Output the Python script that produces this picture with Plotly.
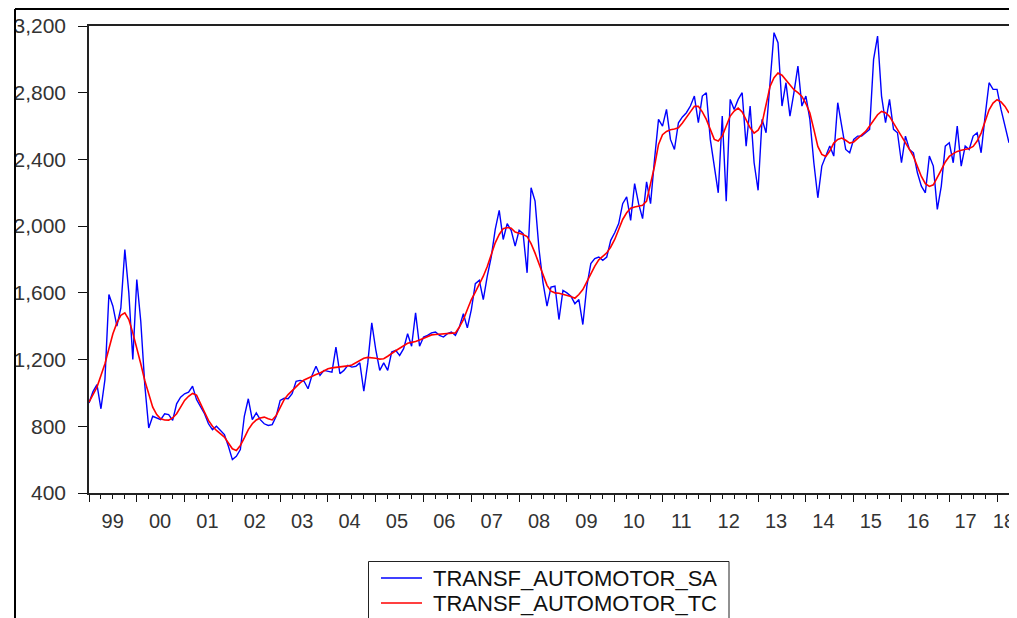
import plotly.graph_objects as go

# ---------------- data (monthly, Jan 1999 - Apr 2018) ----------------
start_year = 1999
series_names = ["TRANSF_AUTOMOTOR_SA", "TRANSF_AUTOMOTOR_TC"]
series_colors = ["#0000FF", "#FF0000"]
year_labels = ["99", "00", "01", "02", "03", "04", "05", "06", "07", "08",
               "09", "10", "11", "12", "13", "14", "15", "16", "17", "18"]

sa_values = [
    940, 1008, 1050, 905, 1080, 1590, 1520, 1400, 1510, 1860, 1600, 1200,
    1680, 1430, 1050, 790, 860, 850, 840, 875, 870, 835, 935, 975,
    995, 1005, 1040, 960, 915, 875, 815, 780, 800, 775, 750, 680,
    600, 620, 660, 860, 965, 840, 880, 840, 815, 805, 810, 860,
    955, 968, 965, 995, 1070, 1075, 1070, 1025, 1105, 1160, 1105, 1135,
    1130, 1125, 1275, 1115, 1135, 1165, 1155, 1160, 1180, 1010, 1180, 1420,
    1260, 1135, 1180, 1135, 1245, 1255, 1225, 1265, 1355, 1280, 1480, 1280,
    1335, 1345, 1360, 1365, 1345, 1335, 1355, 1365, 1345, 1395, 1475, 1390,
    1500, 1655, 1675, 1560, 1700, 1815, 1980, 2095, 1920, 2015, 1975, 1880,
    1975, 1955, 1720, 2230, 2150, 1860, 1660, 1520, 1635, 1640, 1440, 1615,
    1600, 1580, 1535, 1560, 1410, 1640, 1775, 1805, 1815, 1795, 1815, 1915,
    1960, 2015, 2135, 2175, 2035, 2255, 2135, 2045, 2265, 2135, 2400, 2640,
    2600, 2700, 2520, 2460, 2620, 2655, 2680, 2720, 2780, 2620, 2780, 2800,
    2520, 2360, 2200, 2660, 2150, 2760, 2700, 2760, 2800, 2480, 2720, 2380,
    2215, 2640, 2560, 2860, 3160, 3100, 2720, 2860, 2660, 2800, 2960, 2720,
    2780, 2640, 2380, 2170, 2360, 2420, 2480, 2420, 2740, 2600, 2460, 2440,
    2520, 2540, 2540, 2560, 2580, 3000, 3140, 2780, 2620, 2760, 2580, 2560,
    2380, 2540, 2460, 2440, 2320, 2240, 2200, 2420, 2360, 2100, 2240, 2480,
    2500, 2380, 2600, 2360, 2480, 2460, 2540, 2560, 2440, 2660, 2860, 2820,
    2820, 2700, 2600, 2500,
]

tc_values = [
    945, 990, 1035, 1105, 1175, 1265, 1355, 1420, 1465, 1480, 1440, 1360,
    1275, 1175, 1075, 990, 915, 870, 845, 838, 837, 850, 875, 915,
    955, 980, 997, 987, 940, 885, 835, 800, 775, 755, 735, 700,
    665, 655, 685, 730, 780, 815, 838, 850, 855, 845, 838, 865,
    915, 960, 990, 1015, 1040, 1060, 1078, 1090, 1100, 1110, 1120, 1135,
    1145, 1150, 1152, 1155, 1158, 1162, 1168, 1182, 1198, 1208, 1213, 1212,
    1208, 1203, 1205, 1220, 1238, 1253, 1268, 1285, 1298, 1303, 1308, 1318,
    1328, 1340, 1348, 1350, 1352, 1352, 1352, 1354, 1360, 1395, 1440, 1500,
    1560, 1605, 1648, 1700, 1758, 1830, 1900, 1950, 1985, 1992, 1988, 1965,
    1958, 1950, 1938, 1895, 1838, 1770, 1700, 1645, 1610, 1600, 1598, 1592,
    1588, 1578, 1568, 1590, 1620, 1670, 1720, 1760, 1798, 1820, 1840, 1875,
    1920, 1980, 2040, 2080, 2108, 2115, 2118, 2125, 2150, 2250, 2360, 2490,
    2548, 2568, 2578, 2582, 2590, 2618, 2648, 2685, 2718, 2718, 2685, 2640,
    2580, 2520, 2510, 2540, 2600, 2660, 2690, 2708, 2685, 2640, 2590, 2558,
    2575, 2618, 2720, 2838, 2890, 2918, 2905, 2878, 2850, 2818, 2800, 2778,
    2735, 2678, 2580, 2478, 2430, 2418, 2450, 2498, 2520, 2528, 2515, 2498,
    2505, 2528, 2545, 2568, 2600, 2638, 2668, 2688, 2680, 2658, 2620, 2578,
    2540, 2498, 2460, 2418, 2360, 2298, 2255, 2238, 2248, 2290, 2338, 2385,
    2418, 2435, 2448, 2455, 2458, 2465, 2478, 2510, 2558, 2625, 2698, 2738,
    2758, 2745, 2718, 2678,
]

# time axis in decimal years (one observation per month)
t = [start_year + i / 12 for i in range(len(sa_values))]
x_end = t[-1]

# ---------------- geometry ----------------
OFF = 8                          # page body margin of the html page
W, H = 1017 - OFF, 618 - OFF
ML, MR, MT, MB = 89 - OFF, 0, 26 - OFF, 125
plot_w = W - ML - MR            # 928
plot_h = H - MT - MB
axis_px = 920                   # width of the framed plot area
px_per_year = axis_px / (x_end - start_year)
x2_end = start_year + plot_w / px_per_year

label_pos = [start_year + i + 0.5 for i in range(len(year_labels) - 1)]
label_pos.append(2018.31)

FONT = "Liberation Sans, Arial, sans-serif"


def px_x(page_px):
    return (page_px - OFF - ML) / plot_w


def px_y(page_py):
    return (H - MB - (page_py - OFF)) / plot_h


fig = go.Figure()
fig.add_trace(go.Scatter(x=t, y=sa_values, mode="lines", name=series_names[0],
                         line=dict(color=series_colors[0], width=1.4),
                         showlegend=False))
fig.add_trace(go.Scatter(x=t, y=tc_values, mode="lines", name=series_names[1],
                         line=dict(color=series_colors[1], width=1.6),
                         showlegend=False))
# carrier trace so that the label axis is drawn
fig.add_trace(go.Scatter(x=[start_year, x2_end], y=[400, 400], xaxis="x2",
                         mode="lines", line=dict(color="rgba(0,0,0,0)", width=0),
                         showlegend=False, hoverinfo="skip"))

fig.update_layout(
    width=W, height=H,
    margin=dict(l=ML, r=MR, t=MT, b=MB, autoexpand=False),
    paper_bgcolor="white", plot_bgcolor="white",
    showlegend=False,
    xaxis=dict(domain=[0, axis_px / plot_w], range=[start_year, x_end],
               tickmode="linear", tick0=start_year, dtick=1,
               ticks="outside", ticklen=7, tickwidth=1, tickcolor="#111111",
               showticklabels=False,
               minor=dict(dtick=0.25, tick0=start_year, ticks="outside",
                          ticklen=4, tickwidth=1, tickcolor="#111111"),
               showline=True, linecolor="#222222", linewidth=1.5, mirror=True,
               showgrid=False, zeroline=False),
    xaxis2=dict(domain=[0, 1], range=[start_year, x2_end], overlaying="x",
                anchor="y", side="bottom", tickmode="array", tickvals=label_pos,
                ticktext=year_labels, ticks="outside", ticklen=10,
                tickcolor="rgba(0,0,0,0)", showline=False, showgrid=False,
                zeroline=False, showticklabels=True,
                tickfont=dict(family=FONT, size=20, color="#333333")),
    yaxis=dict(range=[400, 3200], tickmode="linear", tick0=400, dtick=400,
               tickformat=",d", ticks="outside", ticklen=9, tickwidth=1,
               tickcolor="#111111", ticklabelstandoff=8,
               showline=True, linecolor="#222222", linewidth=1.5, mirror=True,
               showgrid=False, zeroline=False,
               tickfont=dict(family=FONT, size=21, color="#333333")),
)

# outer window frame (top and left edges)
fig.add_shape(type="line", xref="paper", yref="paper",
              x0=px_x(15), y0=px_y(9), x1=px_x(1025), y1=px_y(9),
              line=dict(color="#000000", width=2))
fig.add_shape(type="line", xref="paper", yref="paper",
              x0=px_x(15), y0=px_y(9), x1=px_x(15), y1=px_y(625),
              line=dict(color="#000000", width=2))

# legend box (bottom edge falls below the visible window, as in the source)
fig.add_shape(type="rect", xref="paper", yref="paper",
              x0=px_x(368.5), y0=px_y(561.5), x1=px_x(729), y1=px_y(640),
              line=dict(color="#222222", width=1), fillcolor="white")
legend_rows = [578, 603]
for name, color, row in zip(series_names, series_colors, legend_rows):
    fig.add_shape(type="line", xref="paper", yref="paper",
                  x0=px_x(381), y0=px_y(row), x1=px_x(422), y1=px_y(row),
                  line=dict(color=color, width=1.5))
    fig.add_annotation(x=px_x(431), y=px_y(row), xref="paper", yref="paper",
                       text=name, showarrow=False, xanchor="left",
                       yanchor="middle",
                       font=dict(family=FONT, size=22, color="#111111"))

fig.write_html("out.html")
